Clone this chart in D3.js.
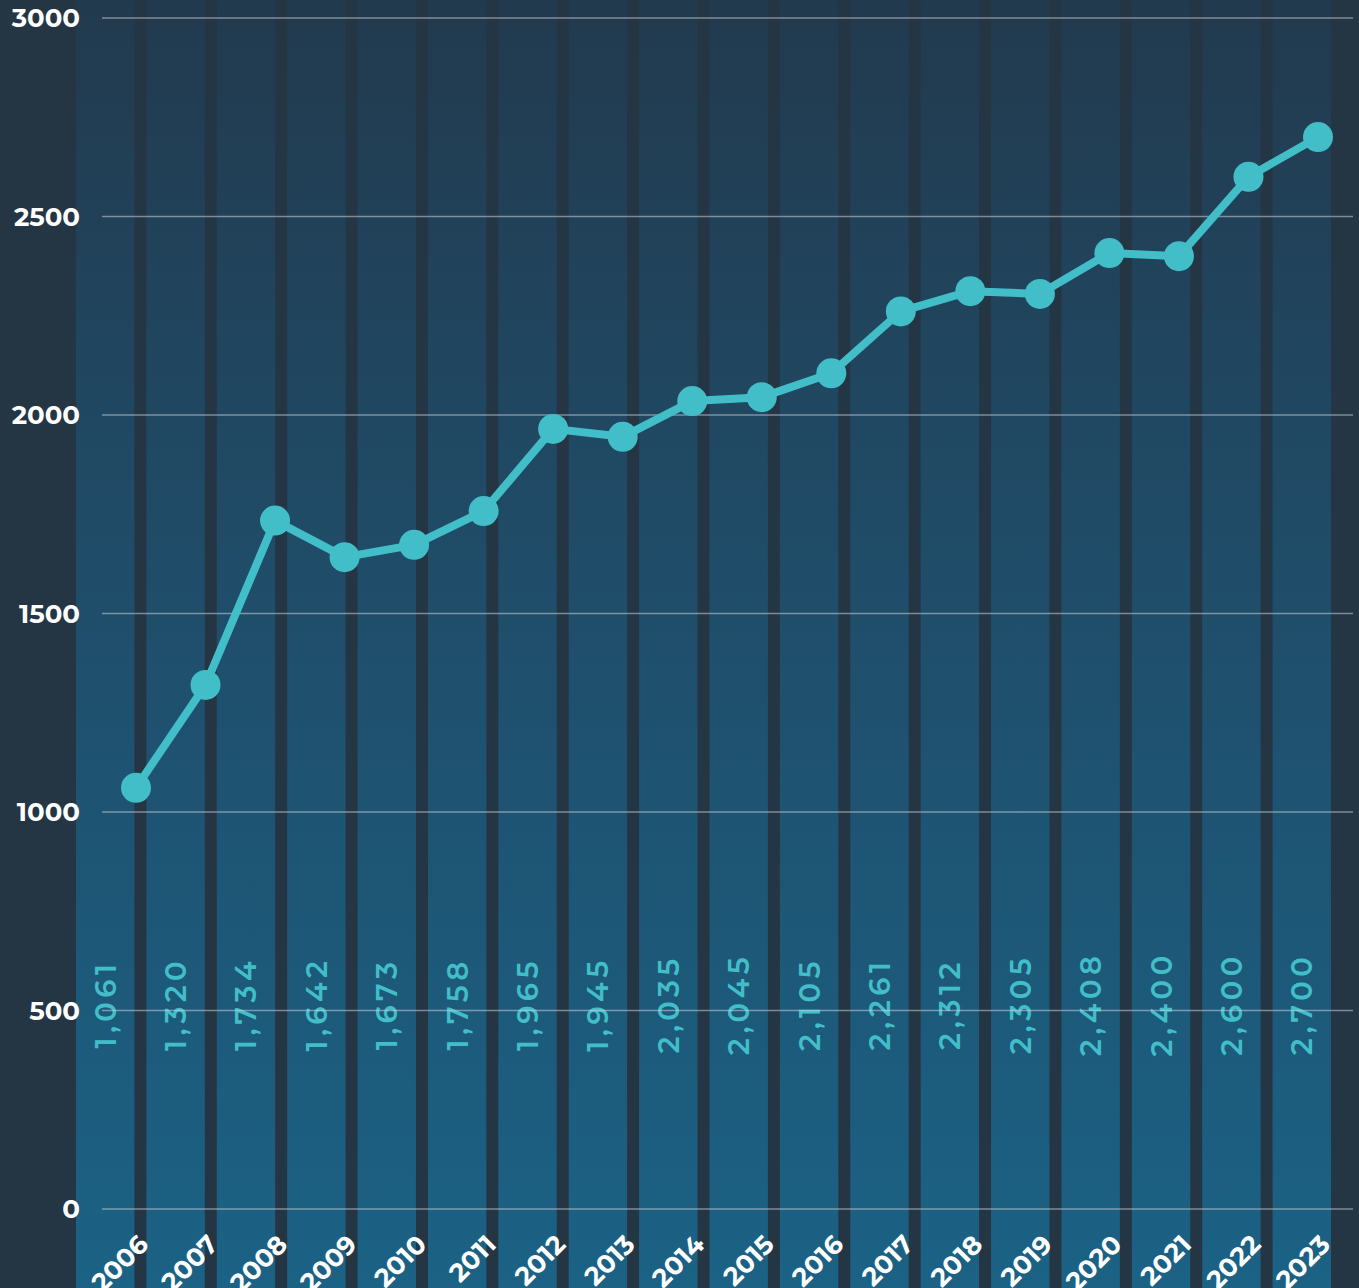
<!DOCTYPE html>
<html>
<head>
<meta charset="utf-8">
<script src="https://cdn.jsdelivr.net/npm/d3@7"></script>
<style>
  html, body { margin: 0; padding: 0; background: #243544; }
  svg { display: block; }
</style>
</head>
<body>
<svg id="chart"></svg>
<script>
// values
const years  = ["2006","2007","2008","2009","2010","2011","2012","2013","2014",
                "2015","2016","2017","2018","2019","2020","2021","2022","2023"];
const values = [1061, 1320, 1734, 1642, 1673, 1758, 1965, 1945, 2035,
                2045, 2105, 2261, 2312, 2305, 2408, 2400, 2600, 2700];
const yTicks = [0, 500, 1000, 1500, 2000, 2500, 3000];

const W = 1359, H = 1288;
const BG = "#243544";
const TEAL = "#42bec8";
const FONT = "Montserrat, Inter, 'Open Sans', sans-serif";

const svg = d3.select("#chart").attr("width", W).attr("height", H);

const defs = svg.append("defs");
const grad = defs.append("linearGradient")
  .attr("id", "colGrad").attr("gradientUnits", "userSpaceOnUse")
  .attr("x1", 0).attr("y1", 0).attr("x2", 0).attr("y2", H);
grad.append("stop").attr("offset", "0%").attr("stop-color", "#223a4e");
grad.append("stop").attr("offset", "50%").attr("stop-color", "#1f4f6c");
grad.append("stop").attr("offset", "100%").attr("stop-color", "#1b6285");

svg.append("rect").attr("width", W).attr("height", H).attr("fill", BG);

// columns behind the line use a band scale, the line itself a point scale
const xBand = d3.scaleBand().domain(years).range([76, 1331]).paddingInner(12 / 70.4).paddingOuter(0);
const xPt   = d3.scalePoint().domain(years).range([136, 1318]);
const y     = d3.scaleLinear().domain([0, 3000]).range([1209, 18]);

svg.append("g").selectAll("rect")
  .data(years)
  .join("rect")
    .attr("x", d => xBand(d))
    .attr("y", 0)
    .attr("width", xBand.bandwidth())
    .attr("height", H)
    .attr("fill", "url(#colGrad)");

// value labels, rotated inside each column
svg.append("g").selectAll("text")
  .data(values)
  .join("text")
    .attr("transform", (d, i) => `translate(${xBand(years[i]) + xBand.bandwidth() / 2}, 1004) rotate(-90)`)
    .attr("text-anchor", "middle")
    .attr("dominant-baseline", "central")
    .attr("font-family", FONT)
    .attr("font-weight", 600)
    .attr("font-size", 29)
    .attr("letter-spacing", 4.5)
    .attr("fill", TEAL)
    .text(d => d3.format(",")(d));

// gridlines + y labels
const yAxis = svg.append("g");
yAxis.selectAll("line")
  .data(yTicks)
  .join("line")
    .attr("x1", 102).attr("x2", 1353)
    .attr("y1", d => y(d)).attr("y2", d => y(d))
    .attr("stroke", "#c8d0d8").attr("stroke-opacity", 0.55)
    .attr("stroke-width", 1.5);
yAxis.selectAll("text")
  .data(yTicks)
  .join("text")
    .attr("x", 80)
    .attr("y", d => y(d))
    .attr("text-anchor", "end")
    .attr("dominant-baseline", "central")
    .attr("font-family", FONT)
    .attr("font-weight", 700)
    .attr("font-size", 26)
    .attr("fill", "#ffffff")
    .text(d => d);

// x labels at 45°
svg.append("g").selectAll("text")
  .data(years)
  .join("text")
    .attr("transform", d => `translate(${xPt(d) + 14}, 1246) rotate(-45)`)
    .attr("text-anchor", "end")
    .attr("font-family", FONT)
    .attr("font-weight", 700)
    .attr("font-size", 26)
    .attr("fill", "#ffffff")
    .text(d => d);

// line + markers
const pts = years.map((yr, i) => [xPt(yr), y(values[i])]);
svg.append("path")
  .attr("d", d3.line()(pts))
  .attr("fill", "none")
  .attr("stroke", TEAL)
  .attr("stroke-width", 8)
  .attr("stroke-linejoin", "round");

svg.append("g").selectAll("circle")
  .data(pts)
  .join("circle")
    .attr("cx", d => d[0]).attr("cy", d => d[1])
    .attr("r", 15)
    .attr("fill", TEAL);
</script>
</body>
</html>
